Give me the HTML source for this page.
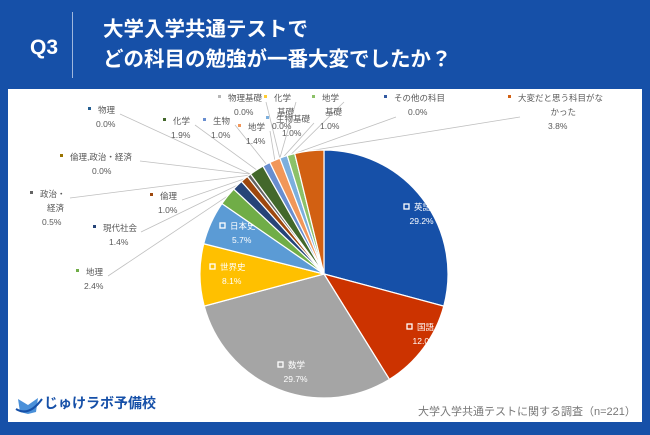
<!DOCTYPE html>
<html><head><meta charset="utf-8"><style>
body{margin:0;width:650px;height:435px;background:#1650a8;overflow:hidden;font-family:"Liberation Sans","Noto Sans CJK JP",sans-serif;position:relative}
.abs{position:absolute}
</style></head><body>
<div class="abs" style="left:30px;top:36px;color:#fff;font-size:21px;font-weight:bold;">Q3</div>
<div class="abs" style="left:72px;top:12px;width:1px;height:66px;background:#9fb7dd"></div>
<div class="abs" style="left:103px;top:15px;color:#fff;font-size:20.5px;line-height:30px;font-weight:bold;">大学入学共通テストで<br>どの科目の勉強が一番大変でしたか？</div>
<div class="abs" style="left:8px;top:89px;width:634px;height:333px;background:#fff"></div>
<svg class="abs" style="left:0;top:0" width="650" height="435" id="chart"></svg>
<div class="abs" style="left:14px;top:393px;color:#1650a8;font-size:14px;font-weight:bold;">
<span style="display:inline-block;width:30px;height:18px;vertical-align:middle;position:relative"><svg width="30" height="20"><path d="M4 4 L14 10 L24 3 L22 17 L14 19 L6 17 Z" fill="#4a90d9"/><path d="M2 14 Q15 22 28 4" stroke="#1650a8" stroke-width="2" fill="none"/></svg></span>じゅけラボ予備校</div>
<div class="abs" style="left:418px;top:403px;color:#777;font-size:11px;white-space:nowrap;">大学入学共通テストに関する調査（n=221）</div>
<script>
const categories=["英語","国語","数学","世界史","日本史","地理","現代社会","倫理","政治・経済","倫理,政治・経済","物理","化学","生物","地学","物理基礎","化学基礎","生物基礎","地学基礎","その他の科目","大変だと思う科目がなかった"];
const values=[29.2,12.0,29.7,8.1,5.7,2.4,1.4,1.0,0.5,0.0,0.0,1.9,1.0,1.4,0.0,0.0,1.0,1.0,0.0,3.8];
const colors=["#1650a8","#cc3300","#a5a5a5","#ffc000","#5b9bd5","#70ad47","#264478","#9e480e","#636363","#997300","#255e91","#43682b","#698ed0","#f1975a","#b7b7b7","#ffcd33","#7cafdd","#8cc168","#335aa1","#d26012"];
const labelPos=[[["英語"],406,210,1],[["国語"],409,330,1],[["数学"],280,368,1],[["世界史"],212,270,1],[["日本史"],222,229,1],
[["地理"],78,275,0],[["現代社会"],95,231,0],[["倫理"],152,199,0],[["政治・","経済"],32,197,0],[["倫理,政治・経済"],62,160,0],
[["物理"],90,113,0],[["化学"],165,124,0],[["生物"],205,124,0],[["地学"],240,130,0],[["物理基礎"],220,101,0],[["化学","基礎"],266,101,0],
[["生物基礎"],268,122,0],[["地学","基礎"],314,101,0],[["その他の科目"],386,101,0],[["大変だと思う科目がな","かった"],510,101,0]];
const svg=document.getElementById('chart');const NS='http://www.w3.org/2000/svg';
const cx=324,cy=274,r=124;const total=values.reduce((a,b)=>a+b,0);
function pt(a,rr){return [cx+rr*Math.sin(a),cy-rr*Math.cos(a)];}
let a0=0;
values.forEach((v,i)=>{
 const a1=a0+v/total*2*Math.PI;
 if(v>0){const p0=pt(a0,r),p1=pt(a1,r);const large=(a1-a0)>Math.PI?1:0;
 const p=document.createElementNS(NS,'path');
 p.setAttribute('d',`M${cx},${cy}L${p0[0]},${p0[1]}A${r},${r} 0 ${large} 1 ${p1[0]},${p1[1]}Z`);
 p.setAttribute('fill',colors[i]);p.setAttribute('stroke','#fff');p.setAttribute('stroke-width','1.2');
 
 
 svg.appendChild(p);}
 const lp=labelPos[i];const mid=(a0+a1)/2;
 if(!lp[3]){const e=pt(mid,r);const ln=document.createElementNS(NS,'polyline');
  const lx=lp[1]+ (lp[1]<cx? lp[0][0].length*8+14 : 10);const ly=lp[2]+(lp[1]<cx? 1:16);
  ln.setAttribute('points',`${e[0]},${e[1]} ${lx},${ly}`);ln.setAttribute('stroke','#bfbfbf');ln.setAttribute('fill','none');ln.setAttribute('stroke-width','0.8');
  
  
  svg.insertBefore(ln,svg.firstChild);}
 const col=lp[3]?'#fff':'#595959';
 const g=document.createElementNS(NS,'g');
 
 
 const m=document.createElementNS(NS,'rect');m.setAttribute('x',lp[1]-2);m.setAttribute('y',lp[2]-6);m.setAttribute('width',lp[3]?5:3);m.setAttribute('height',lp[3]?5:3);
 if(lp[3]){m.setAttribute('fill','none');m.setAttribute('stroke','#fff');m.setAttribute('stroke-width','1.3');}else m.setAttribute('fill',colors[i]);
 g.appendChild(m);
 const lines=lp[0].concat([v.toFixed(1)+'%']);
 lines.forEach((t,k)=>{const tx=document.createElementNS(NS,'text');
  tx.setAttribute('x',k==0?lp[1]+8:lp[1]+8+ (lp[0][0].length*8-t.length*5)/2);tx.setAttribute('y',lp[2]+k*14);
  tx.setAttribute('font-size','8.5');tx.setAttribute('fill',col);tx.textContent=t;g.appendChild(tx);});
 svg.appendChild(g);
 a0=a1;
});
</script>
</body></html>
